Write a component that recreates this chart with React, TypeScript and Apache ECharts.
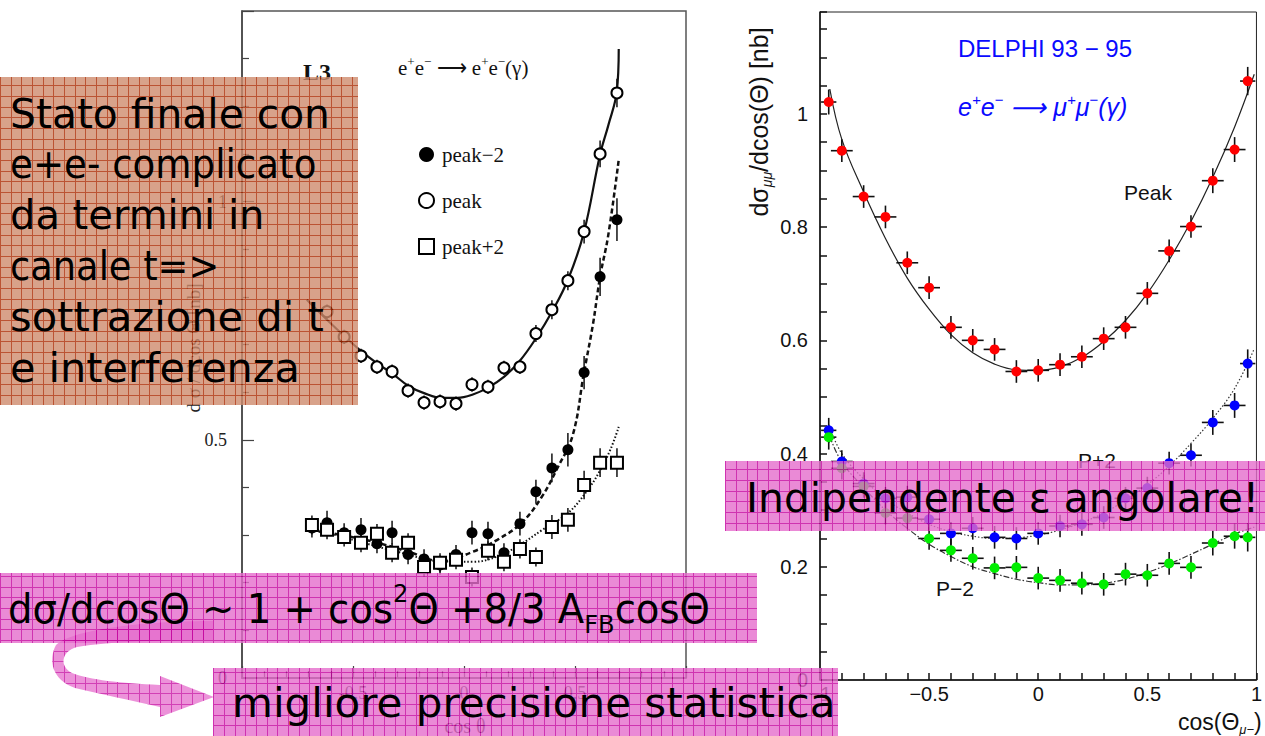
import React, { useEffect, useRef } from 'react';
import * as echarts from 'echarts';

// ---------------- Left panel (L3, e+e- -> e+e-) ----------------
const l3Bins = [-0.685, -0.617, -0.54, -0.464, -0.392, -0.324, -0.252, -0.18, -0.108, -0.036, 0.036, 0.108, 0.18, 0.252, 0.324, 0.396, 0.468, 0.541, 0.613, 0.689];
const l3PeakM2 = [0.315, 0.326, 0.305, 0.311, 0.282, 0.305, 0.259, 0.25, 0.237, 0.259, 0.305, 0.303, 0.263, 0.324, 0.391, 0.441, 0.479, 0.641, 0.842, 0.962];
const l3PeakM2Err = [0.02, 0.025, 0.02, 0.025, 0.02, 0.025, 0.02, 0.02, 0.02, 0.02, 0.025, 0.025, 0.02, 0.025, 0.025, 0.03, 0.035, 0.035, 0.04, 0.045];
const l3Peak = [null, 0.769, 0.716, 0.676, 0.653, 0.643, 0.603, 0.578, 0.58, 0.576, 0.616, 0.611, 0.651, 0.653, 0.723, 0.773, 0.834, 0.937, 1.1, 1.228];
const l3PeakErr = [0, 0.015, 0.015, 0.015, 0.015, 0.015, 0.015, 0.015, 0.015, 0.015, 0.015, 0.015, 0.015, 0.015, 0.018, 0.02, 0.02, 0.025, 0.028, 0.03];
const l3PeakP2 = [0.321, 0.311, 0.296, 0.284, 0.303, 0.263, 0.284, 0.233, 0.242, 0.248, 0.212, 0.267, 0.244, 0.271, 0.254, 0.317, 0.332, 0.405, 0.452, 0.452];
const l3PeakP2Err = [0.02, 0.02, 0.02, 0.02, 0.02, 0.02, 0.02, 0.02, 0.02, 0.02, 0.02, 0.02, 0.02, 0.02, 0.02, 0.025, 0.025, 0.03, 0.03, 0.03];

const l3FitPeakX = [-0.708, -0.617, -0.54, -0.46, -0.39, -0.32, -0.25, -0.18, -0.1, -0.03, 0.04, 0.11, 0.18, 0.25, 0.32, 0.4, 0.47, 0.54, 0.613, 0.65, 0.688, 0.697];
const l3FitPeakY = [0.794, 0.752, 0.718, 0.685, 0.66, 0.638, 0.613, 0.598, 0.588, 0.588, 0.595, 0.61, 0.632, 0.665, 0.71, 0.772, 0.838, 0.935, 1.099, 1.16, 1.23, 1.32];
const l3FitM2X = [-0.69, -0.55, -0.4, -0.25, -0.1, 0.04, 0.15, 0.26, 0.35, 0.42, 0.49, 0.54, 0.58, 0.613, 0.65, 0.697];
const l3FitM2Y = [0.31, 0.3, 0.285, 0.265, 0.245, 0.265, 0.29, 0.326, 0.38, 0.44, 0.51, 0.64, 0.74, 0.842, 0.93, 1.088];
const l3FitP2X = [-0.69, -0.5, -0.3, -0.1, 0.04, 0.15, 0.25, 0.35, 0.47, 0.55, 0.61, 0.66, 0.697];
const l3FitP2Y = [0.315, 0.29, 0.265, 0.245, 0.244, 0.255, 0.279, 0.31, 0.347, 0.39, 0.433, 0.48, 0.527];

// ---------------- Right panel (DELPHI, e+e- -> mu+mu-) ----------------
const dBins = [-0.96, -0.9, -0.8, -0.7, -0.6, -0.5, -0.4, -0.3, -0.2, -0.1, 0, 0.1, 0.2, 0.3, 0.4, 0.5, 0.6, 0.7, 0.8, 0.9, 0.96];
const dBinHalf = [0.035, 0.05, 0.05, 0.05, 0.05, 0.05, 0.05, 0.05, 0.05, 0.05, 0.05, 0.05, 0.05, 0.05, 0.05, 0.05, 0.05, 0.05, 0.05, 0.05, 0.035];
const dPeak = [1.021, 0.935, 0.854, 0.818, 0.737, 0.693, 0.623, 0.6, 0.584, 0.545, 0.547, 0.557, 0.571, 0.603, 0.623, 0.683, 0.758, 0.801, 0.882, 0.937, 1.058];
const dPeakP2 = [0.441, 0.386, 0.347, 0.321, 0.323, 0.284, 0.259, 0.268, 0.252, 0.25, 0.259, 0.272, 0.275, 0.287, 0.321, 0.339, 0.383, 0.397, 0.455, 0.485, 0.559];
const dPeakM2 = [0.429, 0.374, 0.342, 0.295, 0.286, 0.25, 0.229, 0.215, 0.198, 0.199, 0.18, 0.176, 0.171, 0.169, 0.187, 0.185, 0.206, 0.199, 0.242, 0.254, 0.252];
const dErr = [0.022, 0.02, 0.02, 0.02, 0.02, 0.02, 0.02, 0.02, 0.02, 0.02, 0.02, 0.02, 0.02, 0.02, 0.02, 0.02, 0.02, 0.02, 0.022, 0.022, 0.025];

const dFitX = [-0.955, -0.9, -0.8, -0.7, -0.6, -0.5, -0.4, -0.3, -0.2, -0.1, 0, 0.1, 0.2, 0.3, 0.4, 0.5, 0.6, 0.7, 0.8, 0.9, 0.99];
const dFitPeakY = [1.044, 0.955, 0.862, 0.78, 0.71, 0.655, 0.61, 0.578, 0.558, 0.548, 0.547, 0.553, 0.57, 0.598, 0.635, 0.683, 0.742, 0.81, 0.888, 0.977, 1.07];
const dFitP2Y = [0.445, 0.4, 0.355, 0.32, 0.295, 0.275, 0.262, 0.254, 0.25, 0.251, 0.256, 0.265, 0.278, 0.295, 0.318, 0.345, 0.378, 0.418, 0.462, 0.515, 0.585];
const dFitM2Y = [0.43, 0.385, 0.34, 0.3, 0.268, 0.24, 0.218, 0.2, 0.188, 0.178, 0.172, 0.168, 0.168, 0.171, 0.178, 0.19, 0.205, 0.222, 0.24, 0.258, 0.27];

const xTicksLabel = (v: number) => (v < 0 ? '−' + Math.abs(v) : String(v));

const SLIDE_FONT = 'DejaVu Sans';
const SERIF = 'Liberation Serif';
const SANS = 'Liberation Sans';

const zip = (xs: number[], ys: (number | null)[]) =>
  xs.map((x, i) => [x, ys[i]]).filter((p) => p[1] !== null && p[1] !== undefined);
const errData = (xs: number[], ys: (number | null)[], ex: number[] | null, ey: number[]) =>
  xs.map((x, i) => [x, ys[i], ex ? ex[i] : 0, ey[i]]).filter((p) => p[1] !== null && p[1] !== undefined);

function errRender(color: string, width: number) {
  return (params: any, api: any) => {
    const x = api.value(0);
    const y = api.value(1);
    const ex = api.value(2);
    const ey = api.value(3);
    const children: any[] = [];
    if (ey) {
      const a = api.coord([x, y - ey]);
      const b = api.coord([x, y + ey]);
      children.push({ type: 'line', shape: { x1: a[0], y1: a[1], x2: b[0], y2: b[1] }, style: { stroke: color, lineWidth: width } });
    }
    if (ex) {
      const a = api.coord([x - ex, y]);
      const b = api.coord([x + ex, y]);
      children.push({ type: 'line', shape: { x1: a[0], y1: a[1], x2: b[0], y2: b[1] }, style: { stroke: color, lineWidth: width } });
    }
    return { type: 'group', children };
  };
}

const ARROW_D =
  'M213 621 C150 621 75 628 56 645 C48 660 52 680 75 688 C100 694 130 700 160 707 L160 717 L214 697 L160 676 L160 685 C120 683 90 680 72 673 C60 667 60 652 77 647 C110 641 170 640 213 640 Z';

let shapeRegistered = false;

function makeGridPattern(base: string, line: string) {
  const c = document.createElement('canvas');
  c.width = 32;
  c.height = 32;
  const g = c.getContext('2d')!;
  g.fillStyle = base;
  g.fillRect(0, 0, 32, 32);
  g.fillStyle = line;
  [0, 11, 21].forEach((p) => {
    g.fillRect(p, 0, 1, 32);
    g.fillRect(0, p, 32, 1);
  });
  return { image: c.toDataURL(), repeat: 'repeat', imageWidth: 32, imageHeight: 32 };
}

export default function App() {
  const ref = useRef<HTMLDivElement>(null);
  useEffect(() => {
    if (!ref.current) return;
    if (!shapeRegistered) {
      echarts.graphic.registerShape('slideArrow', echarts.graphic.extendPath(ARROW_D, {}) as any);
      shapeRegistered = true;
    }
    const chart = echarts.init(ref.current, undefined, { renderer: 'svg' });
    const brown = makeGridPattern('rgb(206,139,109)', 'rgb(170,40,0)');
    const pink = makeGridPattern('rgb(229,109,204)', 'rgb(195,0,156)');

    const slideText = (x: number, y: number, text: string, scaleX = 1) => ({
      type: 'text',
      x,
      y,
      scaleX,
      z: 120,
      style: { text, fontFamily: SLIDE_FONT, fontSize: 40, fill: '#000', align: 'left', verticalAlign: 'middle' },
    });

    const leftAxisTick = { inside: true, length: 12, lineStyle: { color: '#444', width: 1.2 } };
    const leftMinor = { show: true, length: 7, lineStyle: { color: '#444', width: 1.2 } };

    const option: any = {
      animation: false,
      backgroundColor: '#fff',
      grid: [
        { left: 242, top: 11, width: 444, height: 667, show: true, borderColor: '#555', borderWidth: 1.5 },
        { left: 820, top: 12, width: 446, height: 668, show: true, borderColor: '#222', borderWidth: 1 },
      ],
      xAxis: [
        {
          gridIndex: 0, type: 'value', min: -1, max: 1, interval: 0.5,
          axisLine: { onZero: false, lineStyle: { color: '#444', width: 1.5 } },
          axisTick: leftAxisTick,
          minorTick: { ...leftMinor, splitNumber: 5 },
          splitLine: { show: false },
          axisLabel: { showMinLabel: false, showMaxLabel: false, fontFamily: SERIF, fontSize: 18, color: '#222', margin: 6, formatter: (v: number) => String(v) },
        },
        {
          gridIndex: 1, type: 'value', min: -1, max: 1, interval: 0.5,
          axisLine: { onZero: false, lineStyle: { color: '#111', width: 1.5 } },
          axisTick: { inside: true, length: 7, lineStyle: { color: '#111', width: 1.5 } },
          minorTick: { show: true, splitNumber: 5, length: 7, lineStyle: { color: '#111', width: 1.5 } },
          splitLine: { show: false },
          axisLabel: { fontFamily: SANS, fontSize: 20, color: '#111', margin: 4, formatter: xTicksLabel },
        },
      ],
      yAxis: [
        {
          gridIndex: 0, type: 'value', min: 0, max: 1.4, interval: 0.5,
          axisLine: { onZero: false, lineStyle: { color: '#444', width: 1.5 } },
          axisTick: leftAxisTick,
          minorTick: { ...leftMinor, splitNumber: 5 },
          splitLine: { show: false },
          axisLabel: { showMaxLabel: false, fontFamily: SERIF, fontSize: 18, color: '#222', margin: 15 },
        },
        {
          gridIndex: 1, type: 'value', min: 0, max: 1.18, interval: 0.2,
          axisLine: { onZero: false, lineStyle: { color: '#111', width: 1.5 } },
          axisTick: { inside: true, length: 7, lineStyle: { color: '#111', width: 1.5 } },
          minorTick: { show: true, splitNumber: 4, length: 7, lineStyle: { color: '#111', width: 1.5 } },
          splitLine: { show: false },
          axisLabel: { showMaxLabel: false, fontFamily: SANS, fontSize: 20, color: '#111', margin: 12, formatter: (v: number) => String(Math.round(v * 10) / 10) },
        },
      ],
      legend: {
        data: ['peak−2', 'peak', 'peak+2'],
        orient: 'vertical',
        left: 413,
        top: 139,
        itemGap: 25,
        itemWidth: 15,
        itemHeight: 15,
        selectedMode: false,
        textStyle: { fontFamily: SERIF, fontSize: 21, color: '#111', padding: [0, 0, 0, 3] },
      },
      series: [
        // ---- left fits
        { type: 'line', xAxisIndex: 0, yAxisIndex: 0, data: zip(l3FitPeakX, l3FitPeakY), smooth: 0.4, showSymbol: false, lineStyle: { color: '#111', width: 2.2 }, z: 3 },
        { type: 'line', xAxisIndex: 0, yAxisIndex: 0, data: zip(l3FitM2X, l3FitM2Y), smooth: 0.4, showSymbol: false, lineStyle: { color: '#111', width: 2.5, type: [5, 3] }, z: 3 },
        { type: 'line', xAxisIndex: 0, yAxisIndex: 0, data: zip(l3FitP2X, l3FitP2Y), smooth: 0.4, showSymbol: false, lineStyle: { color: '#111', width: 2, type: [1.5, 2] }, z: 3 },
        // ---- left error bars
        { type: 'custom', xAxisIndex: 0, yAxisIndex: 0, renderItem: errRender('#111', 1.5), encode: { x: 0, y: 1 }, data: errData(l3Bins, l3PeakM2, null, l3PeakM2Err), z: 4 },
        { type: 'custom', xAxisIndex: 0, yAxisIndex: 0, renderItem: errRender('#111', 1.5), encode: { x: 0, y: 1 }, data: errData(l3Bins, l3Peak, null, l3PeakErr), z: 4 },
        { type: 'custom', xAxisIndex: 0, yAxisIndex: 0, renderItem: errRender('#111', 1.5), encode: { x: 0, y: 1 }, data: errData(l3Bins, l3PeakP2, null, l3PeakP2Err), z: 4 },
        // ---- left markers
        { name: 'peak−2', type: 'scatter', xAxisIndex: 0, yAxisIndex: 0, data: zip(l3Bins, l3PeakM2), symbol: 'circle', symbolSize: 11, itemStyle: { color: '#000', opacity: 1 }, z: 5 },
        { name: 'peak', type: 'scatter', xAxisIndex: 0, yAxisIndex: 0, data: zip(l3Bins, l3Peak), symbol: 'emptyCircle', symbolSize: 11, itemStyle: { color: '#000', borderWidth: 2, opacity: 1 }, z: 5 },
        { name: 'peak+2', type: 'scatter', xAxisIndex: 0, yAxisIndex: 0, data: zip(l3Bins, l3PeakP2), symbol: 'emptyRect', symbolSize: 12, itemStyle: { color: '#000', borderWidth: 1.8, opacity: 1 }, z: 5 },
        // ---- right fits
        { type: 'line', xAxisIndex: 1, yAxisIndex: 1, data: zip(dFitX, dFitPeakY), smooth: 0.4, showSymbol: false, lineStyle: { color: '#222', width: 1.2 }, z: 3 },
        { type: 'line', xAxisIndex: 1, yAxisIndex: 1, data: zip(dFitX, dFitP2Y), smooth: 0.4, showSymbol: false, lineStyle: { color: '#333', width: 1.2, type: [1.5, 2] }, z: 3 },
        { type: 'line', xAxisIndex: 1, yAxisIndex: 1, data: zip(dFitX, dFitM2Y), smooth: 0.4, showSymbol: false, lineStyle: { color: '#333', width: 1.2, type: [6, 2, 1.5, 2] }, z: 3 },
        // ---- right error crosses
        { type: 'custom', xAxisIndex: 1, yAxisIndex: 1, renderItem: errRender('#111', 1.6), encode: { x: 0, y: 1 }, data: errData(dBins, dPeak, dBinHalf, dErr), z: 4 },
        { type: 'custom', xAxisIndex: 1, yAxisIndex: 1, renderItem: errRender('#111', 1.6), encode: { x: 0, y: 1 }, data: errData(dBins, dPeakP2, dBinHalf, dErr), z: 4 },
        { type: 'custom', xAxisIndex: 1, yAxisIndex: 1, renderItem: errRender('#111', 1.6), encode: { x: 0, y: 1 }, data: errData(dBins, dPeakM2, dBinHalf, dErr), z: 4 },
        // ---- right markers
        { name: 'Peak', type: 'scatter', xAxisIndex: 1, yAxisIndex: 1, data: zip(dBins, dPeak), symbol: 'circle', symbolSize: 10, itemStyle: { color: '#ff0000', opacity: 1 }, z: 5 },
        { name: 'P+2', type: 'scatter', xAxisIndex: 1, yAxisIndex: 1, data: zip(dBins, dPeakP2), symbol: 'circle', symbolSize: 10, itemStyle: { color: '#0000ff', opacity: 1 }, z: 5 },
        { name: 'P−2', type: 'scatter', xAxisIndex: 1, yAxisIndex: 1, data: zip(dBins, dPeakM2), symbol: 'circle', symbolSize: 10, itemStyle: { color: '#00ee00', opacity: 1 }, z: 5 },
      ],
      graphic: [
        // ---- left chart annotations
        { type: 'text', x: 317, y: 72, z: 10, style: { text: 'L3', fontFamily: SERIF, fontWeight: 'bold', fontSize: 24, fill: '#111', align: 'center', verticalAlign: 'middle' } },
        {
          type: 'text', x: 398, y: 68, z: 10,
          style: {
            text: '{n|e}{s|+}{n|e}{s|−}{n| ⟶ e}{s|+}{n|e}{s|−}{n|(γ)}',
            verticalAlign: 'middle', align: 'left',
            rich: {
              n: { fontFamily: SERIF, fontSize: 21, lineHeight: 26, fill: '#111', verticalAlign: 'middle' },
              s: { fontFamily: SERIF, fontSize: 13, lineHeight: 15, fill: '#111', verticalAlign: 'top' },
            },
          },
        },
        { type: 'text', x: 193, y: 348, rotation: Math.PI / 2, z: 10, style: { text: 'd σ / dcos Θ [nb]', fontFamily: SERIF, fontSize: 19, fill: '#222', align: 'center', verticalAlign: 'middle' } },
        { type: 'text', x: 465, y: 726, z: 10, style: { text: 'cos θ', fontFamily: SERIF, fontSize: 20, fill: '#222', align: 'center', verticalAlign: 'middle' } },
        // ---- right chart annotations
        { type: 'text', x: 1045, y: 48, z: 10, style: { text: 'DELPHI 93 − 95', fontFamily: SANS, fontSize: 24, fill: '#0a0aff', align: 'center', verticalAlign: 'middle' } },
        {
          type: 'text', x: 958, y: 107, z: 10,
          style: {
            text: '{n|e}{s|+}{n|e}{s|−}{n| ⟶ μ}{s|+}{n|μ}{s|−}{n|(γ)}',
            verticalAlign: 'middle', align: 'left',
            rich: {
              n: { fontFamily: SANS, fontStyle: 'italic', fontSize: 25, lineHeight: 30, fill: '#0a0aff', verticalAlign: 'middle' },
              s: { fontFamily: SANS, fontStyle: 'italic', fontSize: 15, lineHeight: 17, fill: '#0a0aff', verticalAlign: 'top' },
            },
          },
        },
        { type: 'text', x: 1148, y: 192, z: 10, style: { text: 'Peak', fontFamily: SANS, fontSize: 21, fill: '#111', align: 'center', verticalAlign: 'middle' } },
        { type: 'text', x: 1097, y: 460, z: 10, style: { text: 'P+2', fontFamily: SANS, fontSize: 21, fill: '#111', align: 'center', verticalAlign: 'middle' } },
        { type: 'text', x: 955, y: 588, z: 10, style: { text: 'P−2', fontFamily: SANS, fontSize: 21, fill: '#111', align: 'center', verticalAlign: 'middle' } },
        {
          type: 'text', x: 759, y: 122, rotation: Math.PI / 2, z: 10,
          style: {
            text: '{n|dσ}{s|μμ}{n|/dcos(Θ) [nb]}',
            align: 'center', verticalAlign: 'middle',
            rich: {
              n: { fontFamily: SANS, fontSize: 25, lineHeight: 30, fill: '#111', verticalAlign: 'middle' },
              s: { fontFamily: SANS, fontStyle: 'italic', fontSize: 14, lineHeight: 18, fill: '#111', verticalAlign: 'bottom' },
            },
          },
        },
        {
          type: 'text', x: 1178, y: 722, z: 10,
          style: {
            text: '{n|cos(Θ}{s|μ−}{n|)}',
            align: 'left', verticalAlign: 'middle',
            rich: {
              n: { fontFamily: SANS, fontSize: 23, lineHeight: 28, fill: '#111', verticalAlign: 'middle' },
              s: { fontFamily: SANS, fontStyle: 'italic', fontSize: 13, lineHeight: 16, fill: '#111', verticalAlign: 'bottom' },
            },
          },
        },
        // ---- slide overlay boxes
        { type: 'rect', z: 100, shape: { x: 0, y: 77, width: 358, height: 328 }, style: { fill: brown as any, opacity: 0.8 } },
        { type: 'rect', z: 100, shape: { x: 725, y: 461, width: 540, height: 70 }, style: { fill: pink as any, opacity: 0.8 } },
        { type: 'rect', z: 100, shape: { x: 0, y: 573, width: 757, height: 70 }, style: { fill: pink as any, opacity: 0.8 } },
        { type: 'rect', z: 100, shape: { x: 213, y: 668, width: 625, height: 68 }, style: { fill: pink as any, opacity: 0.8 } },
        { type: 'slideArrow', z: 101, x: 0, y: 0, style: { fill: pink as any, opacity: 0.75 } },
        // ---- slide texts
        slideText(10, 114, 'Stato finale con', 1.02),
        slideText(10, 164, 'e+e- complicato', 0.93),
        slideText(10, 215, 'da termini in'),
        slideText(10, 266, 'canale t=>', 0.92),
        slideText(10, 317, 'sottrazione di t', 1.04),
        slideText(10, 368, 'e interferenza', 1.035),
        slideText(746, 498, 'Indipendente ε angolare!', 1.02),
        {
          type: 'text', x: 8, y: 609, z: 120, scaleX: 0.965,
          style: {
            text: '{t|dσ/dcosΘ ~ 1 + cos}{sup|2}{t|Θ +8/3 A}{sub|FB}{t|cosΘ}',
            align: 'left', verticalAlign: 'middle',
            rich: {
              t: { fontFamily: SLIDE_FONT, fontSize: 40, lineHeight: 56, fill: '#000', verticalAlign: 'middle' },
              sup: { fontFamily: SLIDE_FONT, fontSize: 25, lineHeight: 36, fill: '#000', verticalAlign: 'top' },
              sub: { fontFamily: SLIDE_FONT, fontSize: 25, lineHeight: 28, fill: '#000', verticalAlign: 'bottom' },
            },
          },
        },
        slideText(232, 703, 'migliore precisione statistica', 1.05),
      ],
    };
    chart.setOption(option);
    return () => chart.dispose();
  }, []);
  return <div ref={ref} style={{ position: 'absolute', left: 0, top: 0, width: 1265, height: 736 }} />;
}
